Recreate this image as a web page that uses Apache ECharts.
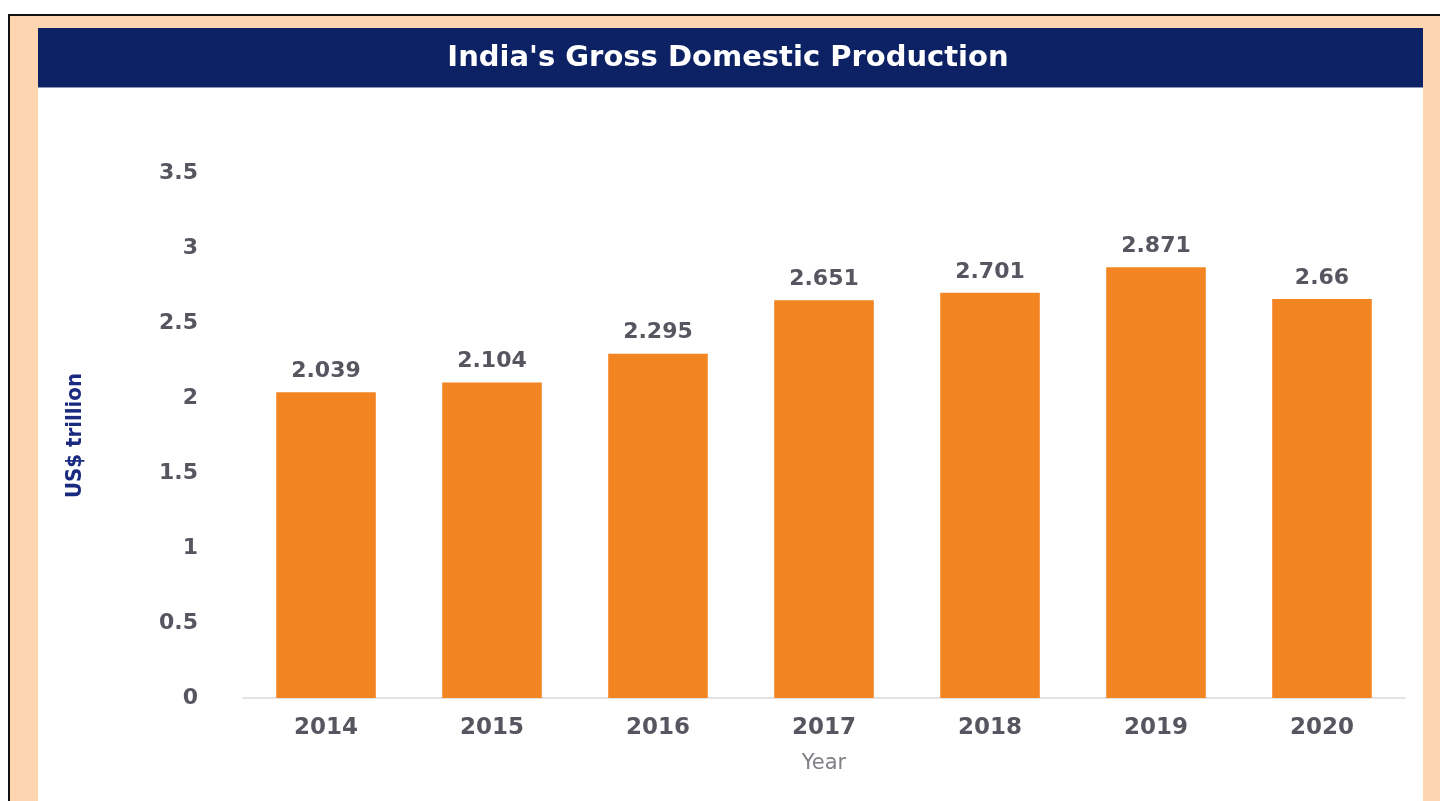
<!DOCTYPE html>
<html>
<head>
<meta charset="utf-8">
<title>India's Gross Domestic Production</title>
<script src="https://cdn.jsdelivr.net/npm/echarts@6/dist/echarts.min.js"></script>
<style>
  html, body { margin: 0; padding: 0; background: #fff; }
  body { width: 1440px; height: 801px; position: relative; overflow: hidden; }
  /* page framing: black edge, peach backdrop, white card, navy header */
  #frame {
    position: absolute; left: 8px; top: 14px; right: 0; bottom: 0;
    border-top: 2px solid #111; border-left: 2px solid #111;
    background: #fdd6b1;
  }
  #panel { position: absolute; left: 38px; top: 28px; width: 1385px; bottom: 0; background: #fff; }
  #header {
    position: absolute; left: 38px; top: 28px; width: 1385px; height: 59px;
    background: #0c2264; border-bottom: 1px solid #8d98b6;
  }
  #chart { position: absolute; left: 0; top: 0; width: 1440px; height: 801px; }
</style>
</head>
<body>
<div id="frame"></div>
<div id="panel"></div>
<div id="header"></div>
<div id="chart"></div>
<script>
// values
const years = ['2014', '2015', '2016', '2017', '2018', '2019', '2020'];
const gdp = [2.039, 2.104, 2.295, 2.651, 2.701, 2.871, 2.66];
const titleText = "India's Gross Domestic Production";
const yName = 'US$ trillion';
const xName = 'Year';

const FONT = 'DejaVu Sans';
const NARROW = '"Liberation Sans Narrow", "DejaVu Sans Condensed", "Liberation Sans", sans-serif';
const LABEL_GRAY = '#565660';

const chart = echarts.init(document.getElementById('chart'), null, { renderer: 'canvas' });

chart.setOption({
  backgroundColor: 'transparent',
  animation: false,
  graphic: [
    {
      type: 'text',
      x: 728,
      y: 58,
      style: {
        text: titleText,
        x: 0,
        y: 0,
        fill: '#ffffff',
        font: `bold 29px "${FONT}"`,
        textAlign: 'center',
        textVerticalAlign: 'middle',
      },
    },
  ],
  grid: {
    left: 243,
    right: 35,
    top: 173,
    bottom: 103,
    containLabel: false,
  },
  xAxis: {
    type: 'category',
    data: years,
    name: xName,
    nameLocation: 'middle',
    nameGap: 55,
    nameTextStyle: { color: '#7f7f86', fontFamily: FONT, fontSize: 21 },
    axisLine: { lineStyle: { color: '#d9d9d9', width: 1.5 } },
    axisTick: { show: false },
    axisLabel: {
      color: LABEL_GRAY,
      fontFamily: FONT,
      fontWeight: 'bold',
      fontSize: 23,
      margin: 19,
    },
    splitLine: { show: false },
  },
  yAxis: {
    type: 'value',
    min: 0,
    max: 3.5,
    interval: 0.5,
    name: yName,
    nameLocation: 'middle',
    nameRotate: 90,
    nameGap: 157,
    nameTextStyle: {
      color: '#1a2a80',
      fontFamily: NARROW,
      fontWeight: 'bold',
      fontSize: 22,
    },
    axisLine: { show: false },
    axisTick: { show: false },
    splitLine: { show: false },
    axisLabel: {
      color: LABEL_GRAY,
      fontFamily: FONT,
      fontWeight: 'bold',
      fontSize: 22,
      margin: 45,
    },
  },
  series: [
    {
      type: 'bar',
      data: gdp,
      barWidth: '60%',
      itemStyle: { color: '#f28522' },
      label: {
        show: true,
        position: 'top',
        distance: 10,
        color: LABEL_GRAY,
        fontFamily: FONT,
        fontWeight: 'bold',
        fontSize: 22,
      },
    },
  ],
});
</script>
</body>
</html>
